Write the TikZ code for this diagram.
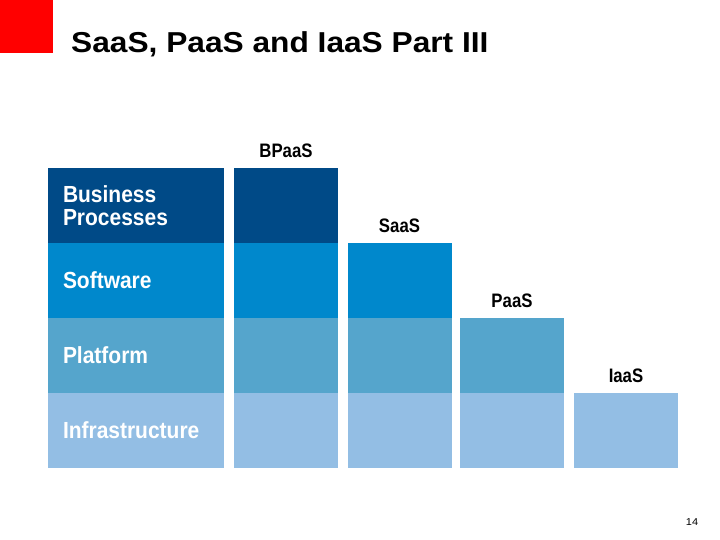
\documentclass[tikz,border=0pt]{standalone}
\usepackage{fontspec}
\usepackage{tikz}
\usetikzlibrary{positioning}

\setmainfont{Liberation Sans}
\newfontfamily\widefont[FakeStretch=1.1]{Liberation Sans}
\newfontfamily\narrowfont[FakeStretch=0.9]{Liberation Sans}
\newfontfamily\headfont[FakeStretch=0.86]{Liberation Sans}

\definecolor{bizblue}{RGB}{0,74,135}
\definecolor{softblue}{RGB}{0,136,204}
\definecolor{platblue}{RGB}{85,165,204}
\definecolor{infrablue}{RGB}{147,190,228}

\begin{document}
\begin{tikzpicture}[x=1pt,y=-1pt,
    cell/.style={rectangle,inner sep=0pt,outer sep=0pt,minimum width=104pt,minimum height=75pt},
    rowcell/.style={rectangle,inner ysep=0pt,inner xsep=15pt,outer sep=0pt,text width=146pt,
        minimum height=75pt,align=left,text=white,
        font=\narrowfont\bfseries\fontsize{23.3}{22.6}\selectfont},
    colhead/.style={inner sep=0pt,outer sep=0pt,font=\headfont\bfseries\fontsize{19.5}{22}\selectfont}]
    \path[use as bounding box] (0,0) rectangle (720,540);
    \node[rectangle,fill=red,inner sep=0pt,minimum size=53pt,anchor=north west] (logo) at (0,0) {};
    \node[anchor=base west,inner sep=0pt,font=\widefont\bfseries\fontsize{28.8}{32}\selectfont] (title) at (71,52.3) {SaaS, PaaS and IaaS Part III};
    % label column
    \node[rowcell,fill=bizblue] (AA) at (136,205.5) {Business\\Processes};
    \node[rowcell,fill=softblue] (BA) at (136,280.5) {Software};
    \node[rowcell,fill=platblue] (CA) at (136,355.5) {Platform};
    \node[rowcell,fill=infrablue] (DA) at (136,430.5) {Infrastructure};
    % BPaaS
    \node[cell,fill=bizblue] (AB) at (286,205.5) {};
    \node[cell,fill=softblue] (BB) at (286,280.5) {};
    \node[cell,fill=platblue] (CB) at (286,355.5) {};
    \node[cell,fill=infrablue] (DB) at (286,430.5) {};
    % SaaS
    \node[cell,fill=softblue] (BC) at (399.5,280.5) {};
    \node[cell,fill=platblue] (CC) at (399.5,355.5) {};
    \node[cell,fill=infrablue] (DC) at (399.5,430.5) {};
    % PaaS
    \node[cell,fill=platblue] (CD) at (512,355.5) {};
    \node[cell,fill=infrablue] (DD) at (512,430.5) {};
    % IaaS
    \node[cell,fill=infrablue] (DE) at (626,430.5) {};
    % headers
    \node[colhead,above=10pt of AB] (HB) {BPaaS};
    \node[colhead,above=10pt of BC] (HC) {SaaS};
    \node[colhead,above=10pt of CD] (HD) {PaaS};
    \node[colhead,above=10pt of DE] (HE) {IaaS};
    \node[anchor=base,inner sep=0pt,font=\widefont\fontsize{10}{12}\selectfont] (page) at (692,525) {14};
\end{tikzpicture}
\end{document}
